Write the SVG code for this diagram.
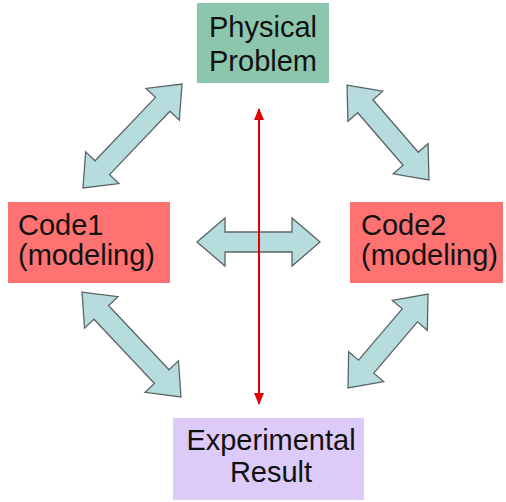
<svg xmlns="http://www.w3.org/2000/svg" width="506" height="502" viewBox="0 0 506 502">
<style>
  .lbl { font-family: "Liberation Sans", Arial, sans-serif; font-size: 29px; fill: #111111; }
  .arr { fill: #B6DCDE; stroke: #5a6466; stroke-width: 1.3; stroke-linejoin: miter; }
</style>
<defs>
  <marker id="redhead" viewBox="0 0 12 10" refX="11" refY="5" markerWidth="12" markerHeight="10" orient="auto-start-reverse" markerUnits="userSpaceOnUse">
    <path d="M0,0 L12,5 L0,10 Z" fill="#E00000"/>
  </marker>
</defs>
<rect width="506" height="502" fill="#ffffff"/>

<g id="physical-problem">
  <rect x="197" y="3" width="132" height="80" fill="#8CC6AC"/>
  <text class="lbl" x="263" y="37" text-anchor="middle">Physical</text>
  <text class="lbl" x="263" y="71" text-anchor="middle">Problem</text>
</g>
<g id="code1">
  <rect x="8" y="202" width="162" height="81" fill="#FF7272"/>
  <text class="lbl" x="18" y="235">Code1</text>
  <text class="lbl" x="18" y="265">(modeling)</text>
</g>
<g id="code2">
  <rect x="350" y="202" width="153" height="81" fill="#FF7272"/>
  <text class="lbl" x="361" y="235">Code2</text>
  <text class="lbl" x="361" y="265">(modeling)</text>
</g>
<g id="experimental-result">
  <rect x="173" y="418" width="191" height="82" fill="#DCCAF8"/>
  <text class="lbl" x="271" y="450" text-anchor="middle">Experimental</text>
  <text class="lbl" x="271" y="482" text-anchor="middle">Result</text>
</g>

<g id="connectors">
  <path class="arr" transform="translate(132.5,136) rotate(-46.4)" d="M-71.8,0 L-43.8,-23 L-43.8,-10 L43.8,-10 L43.8,-23 L71.8,0 L43.8,23 L43.8,10 L-43.8,10 L-43.8,23 Z"/>
  <path class="arr" transform="translate(388,132.5) rotate(49.2)" d="M-62.7,0 L-34.7,-23 L-34.7,-10 L34.7,-10 L34.7,-23 L62.7,0 L34.7,23 L34.7,10 L-34.7,10 L-34.7,23 Z"/>
  <path class="arr" transform="translate(131.5,344.5) rotate(46.7)" d="M-72.1,0 L-44.1,-23 L-44.1,-10 L44.1,-10 L44.1,-23 L72.1,0 L44.1,23 L44.1,10 L-44.1,10 L-44.1,23 Z"/>
  <path class="arr" transform="translate(388,341) rotate(130.4)" d="M-61.7,0 L-33.7,-23 L-33.7,-10 L33.7,-10 L33.7,-23 L61.7,0 L33.7,23 L33.7,10 L-33.7,10 L-33.7,23 Z"/>
  <path class="arr" transform="translate(258.5,242)" d="M-61.5,0 L-33.5,-24 L-33.5,-10 L33.5,-10 L33.5,-24 L61.5,0 L33.5,24 L33.5,10 L-33.5,10 L-33.5,24 Z"/>
  <line x1="259" y1="109" x2="259" y2="404" stroke="#E00000" stroke-width="2" marker-start="url(#redhead)" marker-end="url(#redhead)"/>
</g>
</svg>
